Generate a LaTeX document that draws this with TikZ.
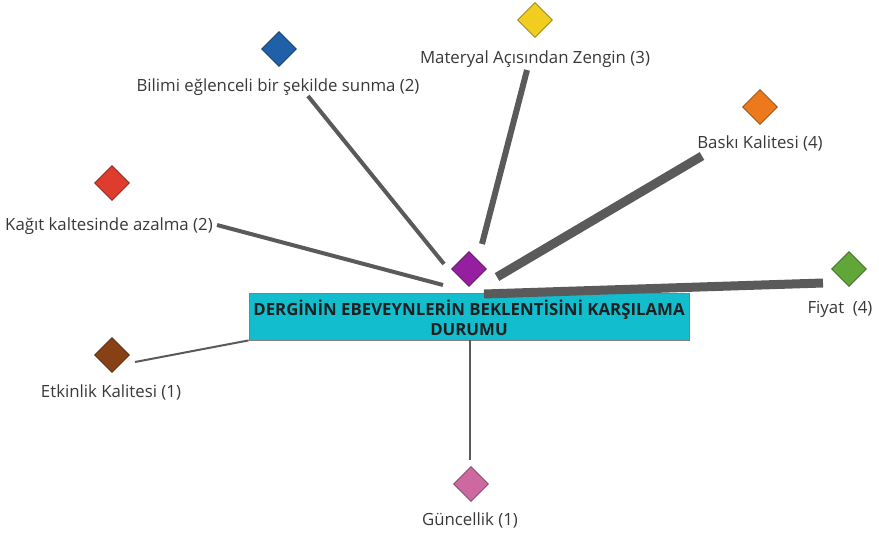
\documentclass[tikz,border=0pt]{standalone}
\usepackage{fontspec}
\setmainfont{Open Sans}
\usetikzlibrary{shapes.geometric}
\definecolor{cbox}{RGB}{18,190,206}
\definecolor{lgray}{RGB}{90,90,90}
\definecolor{cpurple}{RGB}{150,30,160}
\definecolor{cblue}{RGB}{32,96,168}
\definecolor{cred}{RGB}{222,60,45}
\definecolor{cyellow}{RGB}{240,205,30}
\definecolor{corange}{RGB}{236,122,28}
\definecolor{cgreen}{RGB}{96,166,56}
\definecolor{cbrown}{RGB}{135,65,20}
\definecolor{cpink}{RGB}{205,105,160}
\tikzset{
  dia/.style={diamond, aspect=1, minimum size=35pt, inner sep=0pt, draw=#1!60!black, line width=0.8pt, fill=#1},
  lbl/.style={font=\fontsize{16.8}{20}\selectfont, text=black!78, inner sep=0pt, anchor=base},
  boxtxt/.style={font=\bfseries\fontsize{16.8}{20}\selectfont, text=black!88, inner sep=0pt, anchor=base},
  conn/.style={draw=lgray, line cap=butt},
}
\begin{document}
\begin{tikzpicture}[x=1pt,y=-1pt]
\useasboundingbox (0,0) rectangle (879,536);
% central box
\node[draw=gray, line width=0.8pt, fill=cbox, minimum width=440pt, minimum height=47pt, inner sep=0pt] (box) at (469,316.5) {};
\node[boxtxt] (t1) at (469,315) {DERGİNİN EBEVEYNLERİN BEKLENTİSİNİ KARŞILAMA};
\node[boxtxt] (t2) at (469,335) {DURUMU};
% diamonds
\node[dia=cpurple] (dP) at (469,269) {};
\node[dia=cblue] (dB) at (279,49) {};
\node[dia=cred] (dR) at (112,183) {};
\node[dia=cyellow] (dY) at (535,20) {};
\node[dia=corange] (dO) at (760,107) {};
\node[dia=cgreen] (dG) at (849,269) {};
\node[dia=cbrown] (dBr) at (112,355) {};
\node[dia=cpink] (dPk) at (471,484) {};
% labels
\node[lbl] (lB) at (278,91) {Bilimi eğlenceli bir şekilde sunma (2)};
\node[lbl] (lR) at (109,230) {Kağıt kaltesinde azalma (2)};
\node[lbl] (lY) at (535,63) {Materyal Açısından Zengin (3)};
\node[lbl] (lO) at (760,148) {Baskı Kalitesi (4)};
\node[lbl] (lG) at (840,313) {Fiyat\ \ (4)};
\node[lbl] (lBr) at (111,397) {Etkinlik Kalitesi (1)};
\node[lbl] (lPk) at (470,525) {Güncellik (1)};
% connector end points
\coordinate (bS) at (308,96);   \coordinate (bE) at (444,264);
\coordinate (rS) at (217,225);  \coordinate (rE) at (443,285);
\coordinate (yS) at (527,70);   \coordinate (yE) at (482,244);
\coordinate (oS) at (702,156);  \coordinate (oE) at (497,277);
\coordinate (gS) at (823,283);  \coordinate (gE) at (484,294);
\coordinate (brS) at (135,362);
\coordinate (pkE) at (470,460);
% connectors
\draw[conn, line width=4pt] (bS) -- (bE);
\draw[conn, line width=4pt] (rS) -- (rE);
\draw[conn, line width=6pt] (yS) -- (yE);
\draw[conn, line width=9pt] (oS) -- (oE);
\draw[conn, line width=9pt] (gS) -- (gE);
\draw[conn, line width=2pt] (brS) -- (box.south west);
\draw[conn, line width=2.5pt] (box.south -| pkE) -- (pkE);
\end{tikzpicture}
\end{document}
